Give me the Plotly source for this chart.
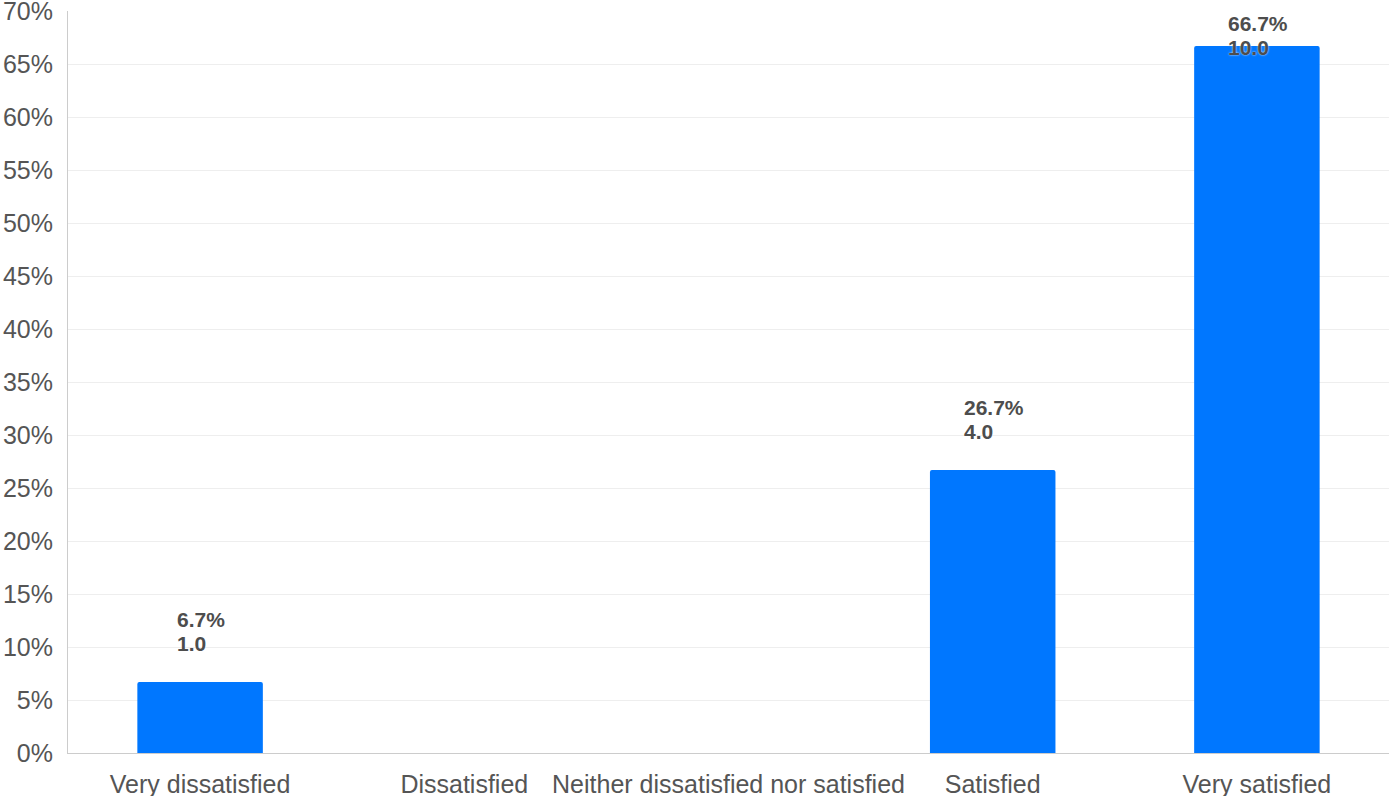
import plotly.graph_objects as go

# Survey responses
categories = ["Very dissatisfied", "Dissatisfied", "Neither dissatisfied nor satisfied",
              "Satisfied", "Very satisfied"]
counts = [1.0, 0.0, 0.0, 4.0, 10.0]
percents = [6.7, 0.0, 0.0, 26.7, 66.7]
y_ticks = list(range(0, 75, 5))

BAR_COLOR = "#0077ff"
TEXT_COLOR = "#555555"
LABEL_COLOR = "#4d4d4d"
Y_MAX = 70
LABEL_SIZE = 21

# Approximate bold sans glyph advances (em units) used to left-align label lines
GLYPH_EM = {".": 0.278, "%": 0.889}


def text_width(s, size):
    return sum(GLYPH_EM.get(ch, 0.556) for ch in s) * size


fig = go.Figure(
    go.Bar(
        x=categories,
        y=percents,
        width=0.475,
        marker=dict(color=BAR_COLOR, line=dict(width=0)),
        hoverinfo="skip",
    )
)

# Two-line value labels (percentage over count) above each non-empty bar
px_per_unit = (796 - 43 - 11) / Y_MAX
gap_px = 25
line_px = 24
block_px = 2 * line_px
label_font = dict(family="Liberation Sans, Arial, sans-serif", size=LABEL_SIZE, color=LABEL_COLOR,
                  weight="bold", shadow="0px 0px 2px #ffffff")
for cat, pct, cnt in zip(categories, percents, counts):
    if cnt <= 0:
        continue
    pct_text = f"{pct:.1f}%"
    cnt_text = f"{cnt:.1f}"
    bottom_px = pct * px_per_unit + gap_px
    top_px = bottom_px + block_px
    limit_px = Y_MAX * px_per_unit - 2
    if top_px > limit_px:
        bottom_px -= top_px - limit_px
    left_shift = -text_width(pct_text, LABEL_SIZE) / 2
    fig.add_annotation(x=cat, y=0, yref="y", text=pct_text, showarrow=False,
                       xanchor="left", yanchor="bottom", yshift=bottom_px + line_px,
                       xshift=left_shift - 1, font=label_font)
    fig.add_annotation(x=cat, y=0, yref="y", text=cnt_text, showarrow=False,
                       xanchor="left", yanchor="bottom", yshift=bottom_px,
                       xshift=left_shift - 1, font=label_font)

fig.update_layout(
    width=1389,
    height=796,
    margin=dict(l=68, r=0, t=11, b=43, autoexpand=False),
    plot_bgcolor="#ffffff",
    paper_bgcolor="#ffffff",
    showlegend=False,
    barcornerradius=2,
    font=dict(family="Liberation Sans, Arial, sans-serif", size=25, color=TEXT_COLOR),
)
fig.update_xaxes(
    automargin=False,
    showgrid=False,
    showline=True,
    linecolor="#cccccc",
    linewidth=1,
    ticks="",
    tickfont=dict(size=25, color=TEXT_COLOR),
    ticklabelstandoff=9,
)
fig.update_yaxes(
    automargin=False,
    range=[0, Y_MAX],
    tickvals=y_ticks,
    ticktext=[f"{v}%" for v in y_ticks],
    showgrid=True,
    gridcolor="#eeeeee",
    gridwidth=1,
    showline=True,
    linecolor="#cccccc",
    linewidth=1,
    zeroline=False,
    ticks="",
    tickfont=dict(size=25, color=TEXT_COLOR),
    ticklabelstandoff=9,
    ticklabeloverflow="allow",
)

fig.write_html("out.html")
